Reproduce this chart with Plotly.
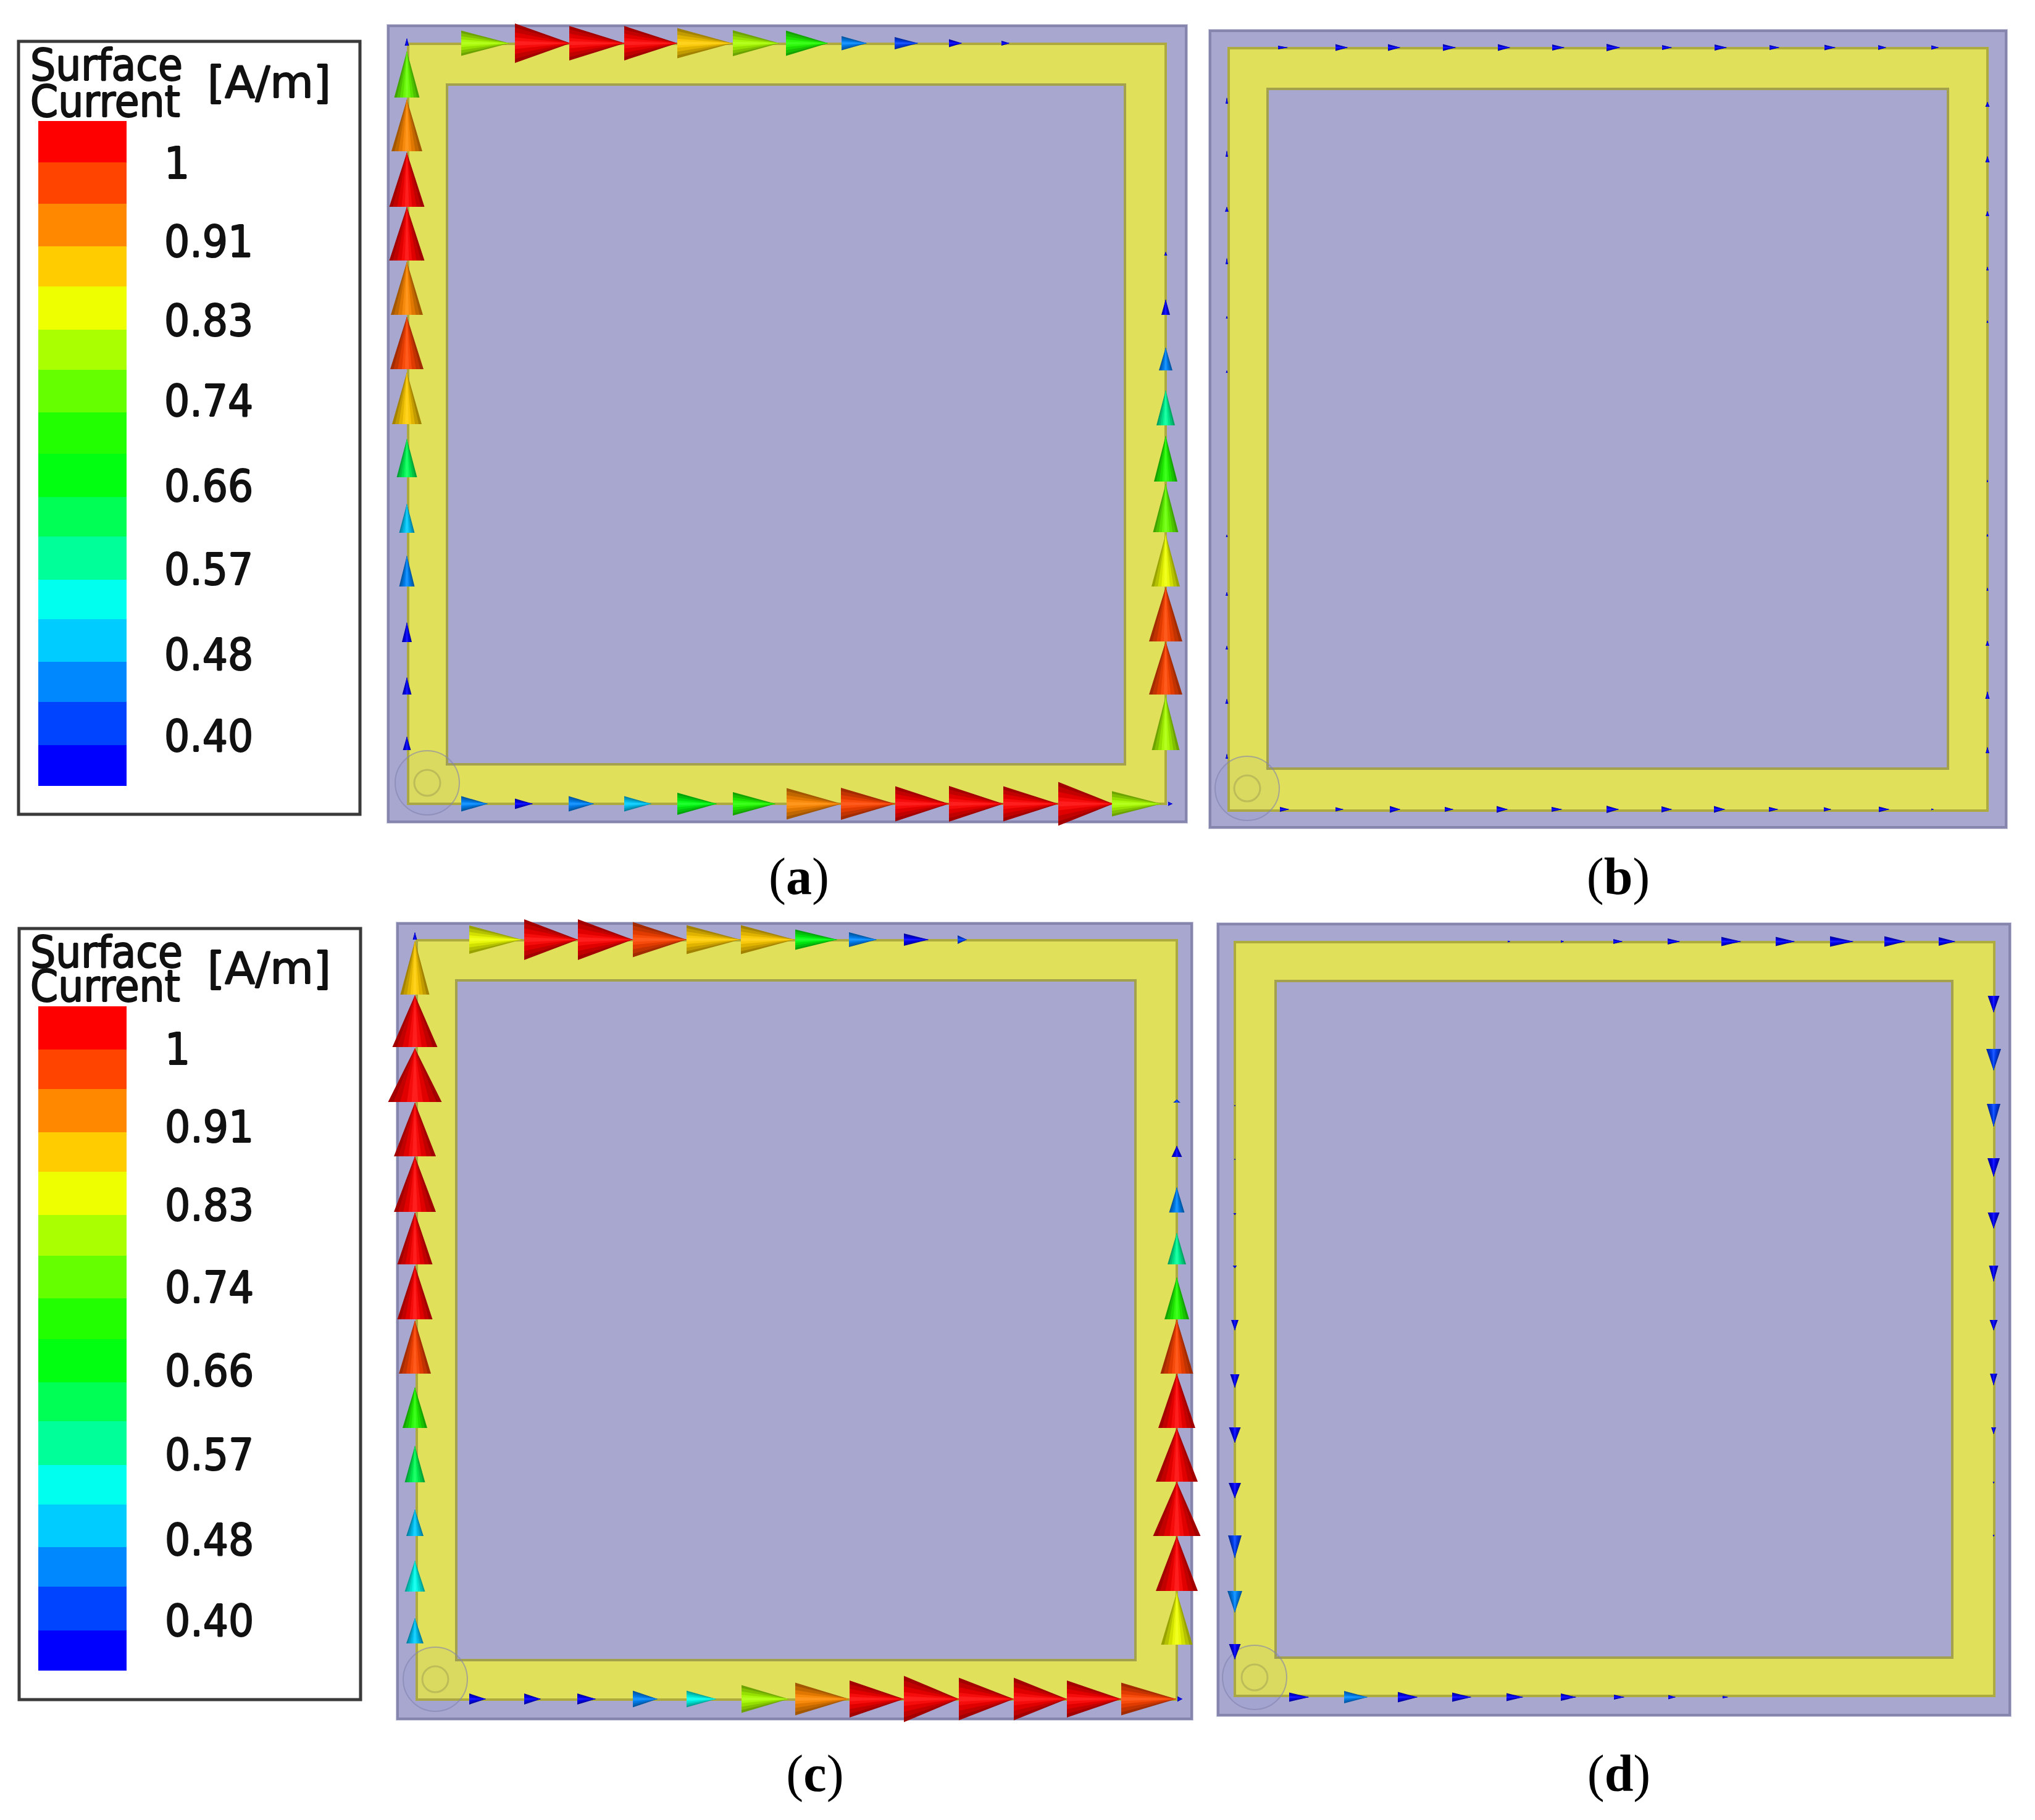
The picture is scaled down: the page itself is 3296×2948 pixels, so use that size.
import plotly.graph_objects as go

W, H = 3296, 2948

# ---------- legend ----------
LEVEL_COLORS = ["#0000FF", "#0044FF", "#0088FF", "#00CCFF", "#00FFEE", "#00FF99", "#00FF55", "#00FF11",
                "#22FF00", "#66FF00", "#AAFF00", "#EEFF00", "#FFCC00", "#FF8800", "#FF4400", "#FF0000"]
TICK_LABELS = ["1", "0.91", "0.83", "0.74", "0.66", "0.57", "0.48", "0.40"]

LEGEND_A_EDGES = [196, 263, 330, 399, 464, 534, 599, 668, 735, 805, 869, 939, 1003, 1072, 1137, 1207, 1273]
LEGEND_A_TICKS = [265, 392, 520, 650, 788, 923, 1061, 1193]
LEGEND_C_EDGES = [1630, 1700, 1764, 1834, 1898, 1968, 2034, 2103, 2169, 2239, 2302, 2373, 2437, 2506, 2570, 2641, 2706]
LEGEND_C_TICKS = [1700, 1826, 1953, 2086, 2221, 2357, 2495, 2626]

# ---------- panel outlines: (left, top, right, bottom) ----------
PANEL_OUTER = {"a": (629, 42, 1921, 1331), "b": (1960, 50, 3249, 1340),
               "c": (644, 1496, 1930, 2784), "d": (1973, 1497, 3255, 2778)}
PANEL_TRACE = {"a": (661, 71, 1888, 1302), "b": (1990, 78, 3219, 1313),
               "c": (675, 1523, 1906, 2753), "d": (2000, 1526, 3230, 2747)}
PANEL_HOLE = {"a": (724, 137, 1822, 1238), "b": (2053, 144, 3155, 1245),
              "c": (739, 1588, 1839, 2689), "d": (2066, 1589, 3162, 2685)}
PORT_CENTER = {"a": (692, 1268), "b": (2020, 1277), "c": (705, 2720), "d": (2032, 2717)}

# ---------- surface-current arrows: (tail, tip, width, level) ----------
A_TOP = [(747, 825, 41, 10), (834, 924, 64, 15), (922, 1012, 56, 15), (1011, 1097, 56, 15), (1097, 1186, 49, 12),
         (1187, 1262, 42, 10), (1273, 1341, 41, 8), (1363, 1404, 23, 2), (1449, 1487, 20, 1), (1537, 1558, 13, 0),
         (1622, 1635, 8, 0)]
A_LEFT = [(158, 83, 41, 9), (245, 161, 50, 13), (335, 247, 57, 15), (422, 335, 57, 15), (510, 424, 52, 13),
          (598, 513, 54, 14), (687, 603, 48, 12), (773, 711, 33, 6), (863, 816, 25, 3), (950, 900, 25, 2),
          (1040, 1008, 16, 0), (1125, 1097, 15, 0), (1215, 1193, 13, 0), (74, 62, 7, 0)]
A_RIGHT = [(1215, 1128, 45, 10), (1125, 1039, 54, 14), (1039, 951, 54, 14), (950, 865, 46, 11), (862, 784, 41, 9),
           (780, 706, 38, 8), (689, 632, 30, 5), (600, 563, 22, 2), (510, 485, 14, 0), (414, 408, 5, 0)]
A_BOTTOM = [(747, 790, 25, 2), (834, 863, 17, 0), (921, 962, 25, 2), (1011, 1055, 25, 3), (1097, 1161, 36, 7),
            (1187, 1256, 38, 8), (1274, 1363, 51, 13), (1362, 1450, 52, 14), (1450, 1537, 57, 15), (1537, 1625, 58, 15),
            (1625, 1714, 57, 15), (1714, 1803, 71, 15), (1801, 1881, 41, 10), (1892, 1899, 7, 0)]

B_TOP = [(2070, 2086, 6, 0), (2163, 2183, 11, 0), (2248, 2268, 11, 0), (2337, 2358, 11, 0), (2426, 2446, 11, 0),
         (2514, 2534, 10, 0), (2602, 2624, 12, 0), (2692, 2708, 8, 0), (2777, 2797, 10, 0), (2866, 2882, 8, 0),
         (2955, 2973, 9, 0), (3042, 3055, 8, 0), (3128, 3140, 7, 0)]
B_BOTTOM = [(2073, 2088, 8, 0), (2163, 2176, 7, 0), (2251, 2268, 11, 0), (2340, 2354, 8, 0), (2424, 2442, 11, 0),
            (2513, 2530, 8, 0), (2602, 2622, 12, 0), (2691, 2708, 10, 0), (2776, 2794, 11, 0), (2865, 2880, 8, 0),
            (2954, 2966, 7, 0), (3043, 3060, 9, 0), (3128, 3132, 3, 0)]
B_LEFT = [(168, 158, 4, 0), (254, 244, 4, 0), (343, 335, 6, 0), (428, 418, 4, 0), (516, 512, 3, 0), (604, 600, 3, 0),
          (870, 866, 3, 0), (965, 959, 4, 0), (1052, 1046, 4, 0), (1140, 1132, 5, 0), (1229, 1221, 4, 0)]
B_RIGHT = [(173, 165, 7, 0), (263, 253, 7, 0), (350, 342, 6, 0), (438, 432, 4, 0), (523, 519, 3, 0), (781, 777, 2, 0),
           (869, 865, 3, 0), (957, 952, 3, 0), (1046, 1038, 6, 0), (1132, 1120, 7, 0), (1220, 1210, 6, 0)]

C_TOP = [(760, 845, 46, 11), (849, 936, 66, 15), (936, 1025, 66, 15), (1025, 1112, 57, 14), (1112, 1199, 47, 12),
         (1200, 1287, 47, 12), (1288, 1356, 33, 7), (1375, 1420, 24, 2), (1464, 1504, 20, 0), (1551, 1566, 14, 1)]
C_LEFT = [(1611, 1524, 47, 12), (1696, 1612, 73, 15), (1785, 1698, 87, 15), (1873, 1786, 68, 15), (1963, 1873, 68, 15),
          (2048, 1964, 57, 15), (2137, 2050, 57, 15), (2225, 2139, 52, 14), (2313, 2247, 40, 8), (2401, 2342, 33, 6),
          (2488, 2445, 28, 3), (2578, 2528, 33, 4), (2662, 2621, 28, 3), (1522, 1510, 7, 0)]
C_RIGHT = [(1786, 1781, 12, 1), (1874, 1856, 17, 0), (1964, 1923, 25, 2), (2048, 1997, 30, 5), (2137, 2069, 40, 8),
           (2225, 2137, 53, 14), (2313, 2225, 60, 15), (2400, 2313, 68, 15), (2488, 2400, 77, 15), (2577, 2488, 68, 15),
           (2664, 2579, 51, 11)]
C_BOTTOM = [(760, 787, 18, 0), (849, 876, 18, 0), (935, 965, 18, 0), (1025, 1065, 27, 2), (1112, 1160, 27, 4),
            (1201, 1277, 45, 10), (1288, 1375, 53, 13), (1376, 1464, 60, 15), (1464, 1553, 75, 15), (1553, 1642, 69, 15),
            (1642, 1728, 69, 15), (1728, 1816, 60, 15), (1816, 1905, 53, 14), (1907, 1915, 9, 0)]

D_TOP = [(2442, 2446, 3, 0), (2528, 2533, 4, 0), (2613, 2628, 8, 0), (2701, 2721, 10, 0), (2788, 2820, 15, 0),
         (2876, 2907, 15, 0), (2964, 3002, 17, 0), (3052, 3086, 17, 0), (3140, 3167, 14, 0)]
D_RIGHT = [(1613, 1640, 19, 0), (1699, 1734, 24, 1), (1788, 1825, 22, 1), (1876, 1906, 20, 0), (1964, 1990, 19, 0),
           (2050, 2076, 15, 0), (2138, 2155, 13, 0), (2225, 2244, 12, 0), (2312, 2323, 8, 0), (2400, 2403, 3, 0),
           (2486, 2489, 3, 0)]
D_LEFT = [(1790, 1792, 2, 0), (1877, 1879, 2, 0), (1965, 1968, 5, 0), (2050, 2054, 7, 0), (2138, 2155, 12, 0),
          (2226, 2248, 15, 0), (2312, 2337, 19, 0), (2402, 2427, 20, 0), (2487, 2524, 22, 1), (2577, 2612, 24, 2),
          (2663, 2688, 19, 0)]
D_BOTTOM = [(2088, 2120, 15, 0), (2177, 2215, 20, 2), (2264, 2296, 17, 0), (2352, 2383, 15, 0), (2440, 2467, 13, 0),
            (2528, 2553, 12, 0), (2614, 2631, 8, 0), (2702, 2714, 7, 0), (2790, 2799, 4, 0)]

# centre line of each row: "h" rows run along x at fixed y, "v" rows along y at fixed x
ROWS = {
    "a": [("h", 70, A_TOP), ("v", 659, A_LEFT), ("v", 1888, A_RIGHT), ("h", 1302, A_BOTTOM)],
    "b": [("h", 77, B_TOP), ("h", 1311, B_BOTTOM), ("v", 1987, B_LEFT), ("v", 3219, B_RIGHT)],
    "c": [("h", 1522, C_TOP), ("v", 672, C_LEFT), ("v", 1906, C_RIGHT), ("h", 2752, C_BOTTOM)],
    "d": [("h", 1525, D_TOP), ("v", 3229, D_RIGHT), ("v", 2000, D_LEFT), ("h", 2749, D_BOTTOM)],
}

CAPTIONS = ["(<b>a</b>)", "(<b>b</b>)", "(<b>c</b>)", "(<b>d</b>)"]
CAPTION_X = [1294, 2621, 1320, 2622]
CAPTION_Y = [1427, 1427, 2880, 2880]

# cone shading: nested triangles sharing one tip, (width fraction, brightness, white mix)
CONE_LAYERS = [(1.0, 0.64, 0.0), (0.8, 0.76, 0.0), (0.55, 0.88, 0.0), (0.3, 0.97, 0.05), (0.12, 1.0, 0.12)]


def shaded(hex_color, brightness, white):
    rgb = [int(hex_color[i:i + 2], 16) for i in (1, 3, 5)]
    out = [min(255, int(c * brightness * (1 - white) + 255 * white)) for c in rgb]
    return "rgb(%d,%d,%d)" % tuple(out)


fig = go.Figure()
shapes = []


def rect(box, fill, line=None, lw=0, grow=0):
    shapes.append(dict(type="rect", xref="x", yref="y", layer="below",
                       x0=box[0] - grow, y0=box[1] - grow, x1=box[2] + grow, y1=box[3] + grow,
                       fillcolor=fill, line=dict(color=line or fill, width=lw)))


def ring(center, r, line, lw, fill="rgba(0,0,0,0)"):
    shapes.append(dict(type="circle", xref="x", yref="y", layer="below",
                       x0=center[0] - r, y0=center[1] - r, x1=center[0] + r, y1=center[1] + r,
                       fillcolor=fill, line=dict(color=line, width=lw)))


for key in "abcd":
    rect(PANEL_OUTER[key], "#C8C8DC", grow=3)
    rect(PANEL_OUTER[key], "#A7A7D0", "#8585AE", 4)
    rect(PANEL_TRACE[key], "#E0E05A", "#ADAB3E", 4)
    rect(PANEL_HOLE[key], "#A7A7D0", "#A3A14C", 4)
    ring(PORT_CENTER[key], 52, "rgba(130,130,175,0.6)", 2, "rgba(120,120,220,0.05)")
    ring(PORT_CENTER[key], 21, "rgba(175,175,85,0.7)", 3)

# legend frames
rect((30, 67, 583, 1319), "#FFFFFF", "#3A3A3A", 5)
rect((31, 1504, 584, 2753), "#FFFFFF", "#3A3A3A", 5)

# arrows
for key in "abcd":
    for layer_i, (wf, bright, white) in enumerate(CONE_LAYERS):
        for level, base_color in enumerate(LEVEL_COLORS):
            xs, ys = [], []
            for orient, line_pos, arrows in ROWS[key]:
                for tail, tip, width, lev in arrows:
                    if lev != level:
                        continue
                    half = width * wf / 2
                    if orient == "h":
                        xs += [tail, tail, tip, tail, None]
                        ys += [line_pos - half, line_pos + half, line_pos, line_pos - half, None]
                    else:
                        xs += [line_pos - half, line_pos + half, line_pos, line_pos - half, None]
                        ys += [tail, tail, tip, tail, None]
            if xs:
                col = shaded(base_color, bright, white)
                fig.add_trace(go.Scatter(x=xs, y=ys, mode="lines", fill="toself", fillcolor=col,
                                         line=dict(width=0, color=col), hoverinfo="skip", showlegend=False))

# colour bars
scale = []
for i, c in enumerate(LEVEL_COLORS[::-1]):
    scale += [[i / 16, c], [(i + 1) / 16, c]]
for edges in (LEGEND_A_EDGES, LEGEND_C_EDGES):
    fig.add_trace(go.Heatmap(z=[[i] for i in range(16)], x=[62, 205], y=edges, zmin=-0.5, zmax=15.5,
                             colorscale=scale, showscale=False, hoverinfo="skip"))

HEAVY = "1px 0 0 #111, -1px 0 0 #111, 0 1px 0 #111, 0 -1px 0 #111"
LEGEND_FONT = dict(family="DejaVu Sans Condensed, DejaVu Sans", size=72, color="#111111", shadow=HEAVY)
UNIT_FONT = dict(family="DejaVu Sans", size=72, color="#111111", shadow=HEAVY)
TICK_SHIFT = 6
for ticks, tx in ((LEGEND_A_TICKS, 266), (LEGEND_C_TICKS, 267)):
    fig.add_trace(go.Scatter(x=[tx] * len(ticks), y=[t + TICK_SHIFT for t in ticks], mode="text", text=TICK_LABELS,
                             textposition="middle right", textfont=LEGEND_FONT,
                             hoverinfo="skip", showlegend=False))

TITLE_X = [49, 49]
TITLE_TEXT = ["Surface", "Current"]
for ys in ([112, 171], [1549, 1604]):
    fig.add_trace(go.Scatter(x=TITLE_X, y=ys, mode="text", text=TITLE_TEXT, textposition="middle right",
                             textfont=LEGEND_FONT, hoverinfo="skip", showlegend=False))
fig.add_trace(go.Scatter(x=[336, 336], y=[140, 1575], mode="text", text=["[A/m]", "[A/m]"],
                         textposition="middle right", textfont=UNIT_FONT, hoverinfo="skip", showlegend=False))

fig.add_trace(go.Scatter(x=CAPTION_X, y=CAPTION_Y, mode="text", text=CAPTIONS, textposition="middle center",
                         textfont=dict(family="Liberation Serif", size=84, color="#000000"),
                         hoverinfo="skip", showlegend=False))

fig.update_layout(
    width=W, height=H, margin=dict(l=0, r=0, t=0, b=0), paper_bgcolor="#FFFFFF", plot_bgcolor="rgba(0,0,0,0)",
    shapes=shapes, showlegend=False,
    xaxis=dict(range=[0, W], visible=False, domain=[0, 1], fixedrange=True),
    yaxis=dict(range=[H, 0], visible=False, domain=[0, 1], fixedrange=True),
)
fig.write_html("out.html", config={"displayModeBar": False},
               post_script="document.body.style.margin='0';document.body.style.overflow='hidden';")
